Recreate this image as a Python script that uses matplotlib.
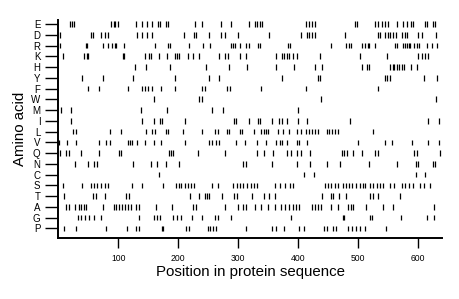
import matplotlib
matplotlib.use("Agg")
import matplotlib.pyplot as plt

plt.rcParams['font.family'] = ['Liberation Sans', 'DejaVu Sans']

# Amino acids, top to bottom
amino_acids = ["E", "D", "R", "K", "H", "Y", "F", "W", "M", "I",
               "L", "V", "Q", "N", "C", "S", "T", "A", "G", "P"]

pos_E = [19, 22, 26, 88, 92, 95, 100, 130, 139, 148, 156, 166, 170, 179, 183, 228, 239, 272, 289, 318,
         329, 332, 336, 340, 413, 419, 423, 428, 496, 499, 529, 533, 540, 545, 550, 565, 575, 583, 589,
         593, 613, 616, 625, 629]
pos_D = [3, 54, 58, 71, 77, 82, 131, 140, 148, 156, 209, 227, 230, 252, 272, 278, 300, 352, 405, 415,
         419, 423, 429, 479, 533, 537, 545, 550, 554, 558, 564, 574, 579, 583, 601, 607, 631]
pos_R = [3, 46, 48, 74, 82, 90, 94, 97, 110, 162, 183, 187, 218, 241, 254, 288, 291, 295, 303, 314,
         318, 333, 337, 384, 386, 455, 481, 485, 488, 507, 512, 517, 519, 529, 562, 566, 576, 579, 582,
         585, 587, 594, 599, 603, 615, 624, 632]
pos_K = [7, 43, 47, 50, 108, 110, 145, 152, 155, 168, 181, 194, 198, 201, 216, 224, 235, 268, 279, 283,
         303, 314, 363, 373, 376, 381, 385, 391, 398, 437, 504, 548, 601, 607, 613, 618]
pos_H = [128, 146, 187, 246, 285, 315, 363, 393, 429, 441, 507, 515, 518, 554, 558, 561, 565, 569, 574,
         577, 589, 599]
pos_Y = [40, 75, 124, 195, 251, 269, 374, 433, 437, 545, 549, 554, 611, 632]
pos_F = [50, 68, 116, 140, 144, 149, 157, 172, 195, 240, 244, 281, 286, 339, 413, 533]
pos_W = [159, 235, 239, 438, 630]
pos_M = [4, 21, 138, 181, 256, 275, 400]
pos_I = [21, 140, 159, 169, 173, 211, 293, 297, 318, 333, 337, 356, 369, 374, 382, 400, 416, 487, 618, 635]
pos_L = [25, 30, 86, 105, 146, 157, 162, 179, 183, 208, 239, 261, 266, 281, 285, 303, 307, 326, 339, 343,
         346, 350, 367, 375, 385, 398, 406, 413, 419, 423, 429, 434, 448, 452, 457, 462, 467, 526]
pos_V = [1, 15, 29, 68, 79, 86, 116, 120, 123, 132, 144, 160, 172, 211, 252, 257, 264, 269, 296, 311,
         331, 347, 363, 370, 374, 381, 398, 401, 416, 501, 545, 557, 590, 618, 635]
pos_Q = [2, 12, 18, 38, 68, 102, 104, 184, 188, 192, 233, 278, 331, 344, 358, 381, 389, 398, 406, 420,
         473, 477, 482, 492, 507, 529, 533, 594, 599, 638]
pos_N = [28, 49, 60, 65, 124, 155, 164, 180, 202, 309, 314, 356, 398, 421, 449, 470, 518, 566, 597, 601,
         625, 629]
pos_C = [168, 410, 427, 597, 613]
pos_S = [7, 39, 54, 60, 65, 71, 77, 82, 123, 140, 174, 197, 201, 205, 211, 216, 222, 227, 257, 266,
         291, 298, 304, 309, 315, 321, 326, 332, 361, 370, 378, 386, 392, 445, 451, 456, 462, 467, 475,
         481, 486, 491, 497, 504, 508, 512, 520, 526, 532, 537, 542, 553, 561, 574, 579, 586, 592, 604,
         610, 621]
pos_T = [10, 58, 63, 78, 113, 118, 219, 235, 244, 248, 251, 274, 294, 298, 323, 343, 352, 361, 441, 455,
         459, 469, 481, 520, 526, 533, 571]
pos_A = [12, 17, 28, 34, 38, 43, 46, 74, 93, 97, 102, 106, 111, 116, 121, 130, 135, 163, 190, 224, 229,
         279, 300, 308, 314, 328, 339, 350, 361, 371, 378, 385, 392, 396, 402, 424, 429, 434, 439, 456,
         467, 484, 488, 492, 514, 542, 559, 627]
pos_G = [32, 38, 45, 51, 60, 71, 135, 160, 164, 169, 192, 198, 205, 223, 239, 262, 266, 289, 389, 475,
         477, 520, 523, 572, 615, 627]
pos_P = [10, 30, 79, 114, 130, 134, 173, 175, 213, 218, 250, 254, 258, 264, 313, 357, 364, 376, 402,
         410, 443, 448, 459, 464, 484, 491, 497, 503, 512, 547]

positions = [pos_E, pos_D, pos_R, pos_K, pos_H, pos_Y, pos_F, pos_W, pos_M, pos_I,
             pos_L, pos_V, pos_Q, pos_N, pos_C, pos_S, pos_T, pos_A, pos_G, pos_P]

x_ticks = [100, 200, 300, 400, 500, 600]

fig = plt.figure(figsize=(4.6, 2.99), dpi=100)
ax = fig.add_axes([0.127, 0.204, 0.833, 0.729])

n = len(amino_acids)
for i, (aa, pos) in enumerate(zip(amino_acids, positions)):
    yrow = n - i
    ax.vlines(pos, yrow - 0.26, yrow + 0.26, color='black', linewidth=0.9)

ax.set_xlim(0, 640)
ax.set_ylim(0.1, 20.37)
ax.set_yticks([n - i for i in range(n)])
ax.set_yticklabels(amino_acids, fontsize=7)
ax.set_xticks(x_ticks)
ax.set_xticklabels([str(t) for t in x_ticks], fontsize=6.2)

ax.tick_params(axis='y', length=9.4, width=1.0, pad=3.5)
ax.tick_params(axis='x', length=7.2, width=1.0, pad=4.5)

for s in ['top', 'right']:
    ax.spines[s].set_visible(False)
for s in ['left', 'bottom']:
    ax.spines[s].set_linewidth(1.4)

ax.set_xlabel("Position in protein sequence", fontsize=10.8, labelpad=1)
ax.set_ylabel("Amino acid", fontsize=10.8, labelpad=3)

fig.savefig("out.png", dpi=100)
